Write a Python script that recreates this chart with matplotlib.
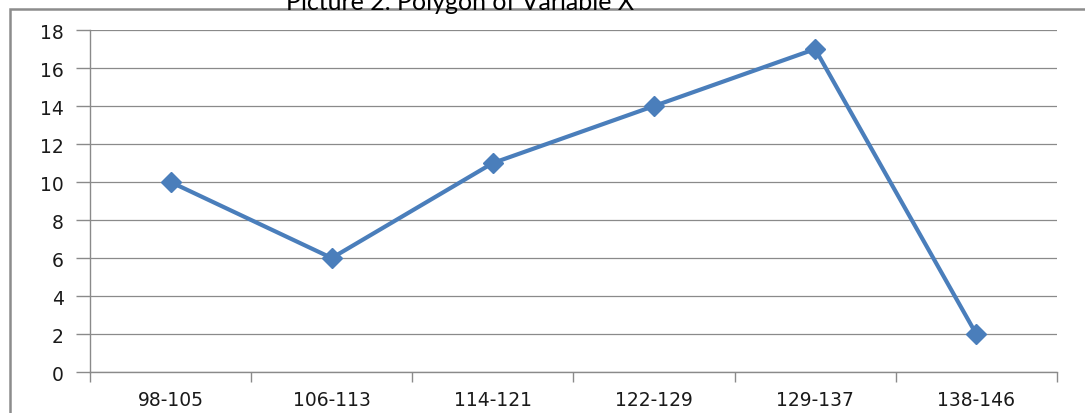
import matplotlib
matplotlib.use("Agg")
import matplotlib.pyplot as plt
from matplotlib.patches import Rectangle
import numpy as np

plt.rcParams["font.family"] = ["DejaVu Sans"]

categories = ["98-105", "106-113", "114-121", "122-129", "129-137", "138-146"]
values = [10, 6, 11, 14, 17, 2]
yticks = [0, 2, 4, 6, 8, 10, 12, 14, 16, 18]

fig = plt.figure(figsize=(10.85, 4.14), dpi=100)
ax = fig.add_axes([0.083, 0.099, 0.891, 0.826])

# outer chart frame (Excel style)
fig.patches.append(Rectangle((0.009, -0.05), 1.2, 1.025, transform=fig.transFigure,
                             fill=False, edgecolor="#8c8c8c", linewidth=1.8))

x = np.arange(len(categories))
ax.plot(x, values, color="#4a7ebb", linewidth=3, marker="D", markersize=10,
        markerfacecolor="#4a7ebb", markeredgecolor="#4a7ebb", zorder=3)

ax.set_xlim(-0.5, len(categories) - 0.5)
ax.set_ylim(0, 18)
ax.set_yticks(yticks)
ax.set_xticks(x)
ax.set_xticklabels(categories)
ax.set_xticks(np.arange(len(categories) + 1) - 0.5, minor=True)
ax.grid(axis="y", color="#8a8a8a", linewidth=0.9)
ax.set_axisbelow(True)

for s in ["top", "right"]:
    ax.spines[s].set_visible(False)
for s in ["left", "bottom"]:
    ax.spines[s].set_color("#8a8a8a")
    ax.spines[s].set_linewidth(1.0)

ax.tick_params(axis="x", which="major", length=0, pad=13, labelsize=13.5, colors="#1a1a1a")
ax.tick_params(axis="x", which="minor", length=7, color="#8a8a8a", width=1)
ax.tick_params(axis="y", length=10, color="#8a8a8a", width=1, pad=9, labelsize=13.5,
               colors="#1a1a1a")
ax.tick_params(axis="y", color="#8a8a8a")

fig.text(0.424, 0.976, "Picture 2. Polygon of Variable X", ha="center", va="baseline",
         fontsize=18, family=["Lato", "DejaVu Sans"])

fig.savefig("out.png", dpi=100)
